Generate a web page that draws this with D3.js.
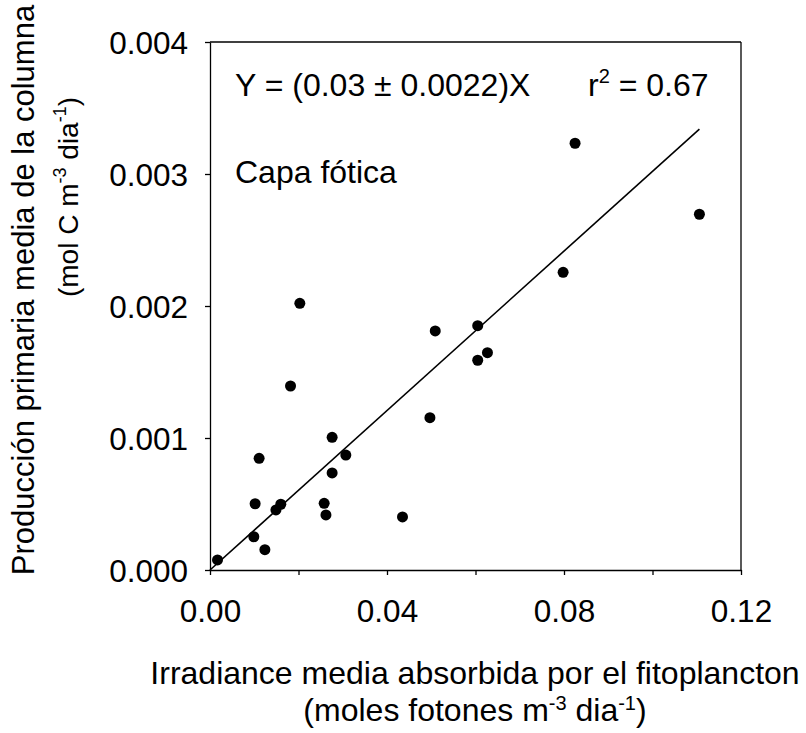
<!DOCTYPE html>
<html>
<head>
<meta charset="utf-8">
<script src="https://cdn.jsdelivr.net/npm/d3@7"></script>
<style>
  html, body { margin: 0; padding: 0; background: #fff; }
  svg { display: block; font-family: "Liberation Sans", Arial, sans-serif; }
</style>
</head>
<body>
<svg id="chart" width="806" height="733"></svg>
<script>
// Data
const irradiance = [0.0017, 0.0099, 0.0124, 0.0102, 0.0111, 0.0149, 0.0160, 0.0182, 0.0203,
  0.0258, 0.0262, 0.0276, 0.0276, 0.0307, 0.0435, 0.0497, 0.0509, 0.0605, 0.0627, 0.0605,
  0.0798, 0.0825, 0.1106];
const production = [0.000076, 0.000252, 0.000154, 0.000502, 0.000846, 0.000455, 0.000498, 0.001394, 0.002020,
  0.000505, 0.000417, 0.001005, 0.000735, 0.000871, 0.000402, 0.001154, 0.001811, 0.001851, 0.001646, 0.001589,
  0.002255, 0.003233, 0.002695];
const slope = 0.0302;
const xTicks = [0, 0.02, 0.04, 0.06, 0.08, 0.10, 0.12];
const xTickLabels = ["0.00", "", "0.04", "", "0.08", "", "0.12"];
const yTicks = [0, 0.001, 0.002, 0.003, 0.004];
const yTickLabels = ["0.000", "0.001", "0.002", "0.003", "0.004"];

const svg = d3.select("#chart");
const L = 210, R = 741, T = 42, B = 570;
const x = d3.scaleLinear().domain([0, 0.12]).range([L, R]);
const y = d3.scaleLinear().domain([0, 0.004]).range([B, T]);
const FS = 32, SUP = 20, SUPDY = 13;

// frame (top and right)
svg.append("line").attr("x1", L).attr("x2", R).attr("y1", T).attr("y2", T).attr("stroke", "#000").attr("stroke-width", 1.3);
svg.append("line").attr("x1", R).attr("x2", R).attr("y1", T).attr("y2", B).attr("stroke", "#000").attr("stroke-width", 1.3);

const xAxis = svg.append("g").attr("transform", `translate(0,${B})`)
  .call(d3.axisBottom(x).tickValues(xTicks).tickSize(5)
    .tickFormat((d, i) => xTickLabels[i]).tickSizeOuter(0));
const yAxis = svg.append("g").attr("transform", `translate(${L},0)`)
  .call(d3.axisLeft(y).tickValues(yTicks).tickSize(5).tickPadding(17)
    .tickFormat((d, i) => yTickLabels[i]).tickSizeOuter(0));
[xAxis, yAxis].forEach(g => {
  g.selectAll("path, line").attr("stroke", "#000").attr("stroke-width", 1.3);
  g.selectAll("text").attr("fill", "#000").style("font-size", "31.5px")
    .style("font-family", '"Liberation Sans", Arial, sans-serif');
});
yAxis.selectAll("text").attr("dy", "0.36em");
xAxis.selectAll("text").attr("y", 52).attr("dy", 0);

// regression line
const xMax = d3.max(irradiance);
svg.append("line")
  .attr("x1", x(0)).attr("y1", y(0))
  .attr("x2", x(xMax)).attr("y2", y(slope * xMax))
  .attr("stroke", "#000").attr("stroke-width", 1.6);

// points
svg.append("g").selectAll("circle")
  .data(irradiance.map((v, i) => [v, production[i]]))
  .join("circle")
  .attr("cx", d => x(d[0])).attr("cy", d => y(d[1]))
  .attr("r", 5.5).attr("fill", "#000");

// annotations
svg.append("text").attr("x", 235).attr("y", 96).style("font-size", FS + "px")
  .text("Y = (0.03 \u00b1 0.0022)X");
const r2 = svg.append("text").attr("x", 588).attr("y", 96).style("font-size", FS + "px");
r2.append("tspan").text("r");
r2.append("tspan").attr("dy", -SUPDY).style("font-size", SUP + "px").text("2");
r2.append("tspan").attr("dy", SUPDY).text(" = 0.67");
svg.append("text").attr("x", 235).attr("y", 183).style("font-size", FS + "px").text("Capa f\u00f3tica");

// x-axis title
svg.append("text").attr("x", 475).attr("y", 684).attr("text-anchor", "middle").style("font-size", FS + "px")
  .text("Irradiance media absorbida por el fitoplancton");
const xt2 = svg.append("text").attr("x", 475).attr("y", 721).attr("text-anchor", "middle").style("font-size", FS + "px");
xt2.append("tspan").text("(moles fotones m");
xt2.append("tspan").attr("dy", -11).style("font-size", SUP + "px").text("-3");
xt2.append("tspan").attr("dy", 11).text(" dia");
xt2.append("tspan").attr("dy", -11).style("font-size", SUP + "px").text("-1");
xt2.append("tspan").attr("dy", 11).text(")");

// y-axis title
svg.append("text").attr("transform", "translate(34,290) rotate(-90)").attr("text-anchor", "middle")
  .style("font-size", "31px")
  .text("Producción primaria media de la columna");
const yt2 = svg.append("text").attr("transform", "translate(78,197) rotate(-90)").attr("text-anchor", "middle")
  .style("font-size", "28px");
yt2.append("tspan").text("(mol C m");
yt2.append("tspan").attr("dy", -12).style("font-size", "18px").text("-3");
yt2.append("tspan").attr("dy", 12).text(" dia");
yt2.append("tspan").attr("dy", -12).style("font-size", "18px").text("-1");
yt2.append("tspan").attr("dy", 12).text(")");
</script>
</body>
</html>
